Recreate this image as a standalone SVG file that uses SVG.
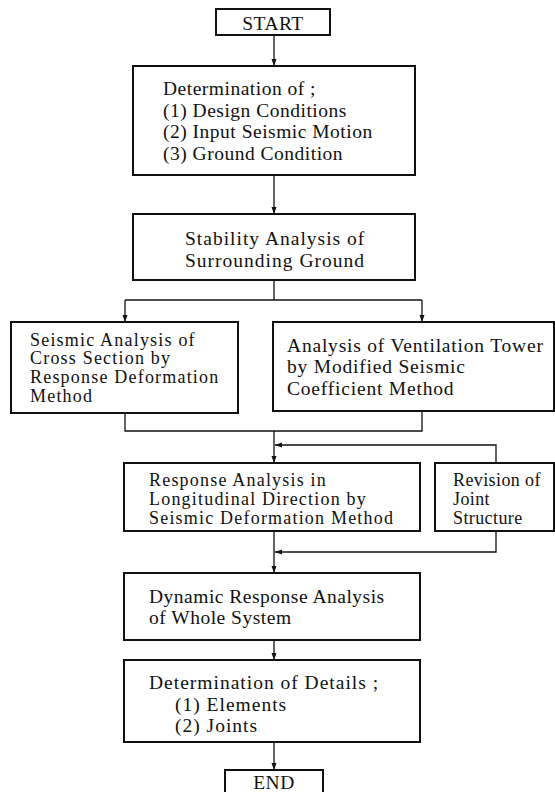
<svg xmlns="http://www.w3.org/2000/svg" width="555" height="792" viewBox="0 0 555 792">
<style>
.box{fill:#fff;stroke:#111;stroke-width:2}
.ln{fill:none;stroke:#111;stroke-width:1.3}
text{font-family:"Liberation Serif","Times New Roman",serif;font-size:19.5px;fill:#111;letter-spacing:0.5px}
.c{text-anchor:middle}
.t{font-size:18px;letter-spacing:1.2px}
.w{letter-spacing:1px}
</style>
<defs>
<marker id="ah" markerWidth="8" markerHeight="6" refX="7" refY="3" orient="auto" markerUnits="userSpaceOnUse">
<path d="M0,0.5 L7,3 L0,5.5 Z" fill="#111"/>
</marker>
</defs>
<rect width="555" height="792" fill="#fff"/>
<g id="connectors">
<path class="ln" d="M274,35 V66" marker-end="url(#ah)"/>
<path class="ln" d="M274,175 V214" marker-end="url(#ah)"/>
<path class="ln" d="M274,280 V300"/>
<path class="ln" d="M125,300 H422"/>
<path class="ln" d="M125,300 V322" marker-end="url(#ah)"/>
<path class="ln" d="M422,300 V322" marker-end="url(#ah)"/>
<path class="ln" d="M125,413 V431 H422 V411"/>
<path class="ln" d="M274,431 V463" marker-end="url(#ah)"/>
<path class="ln" d="M496,463 V445 H275" marker-end="url(#ah)"/>
<path class="ln" d="M274,531 V573" marker-end="url(#ah)"/>
<path class="ln" d="M496,531 V552 H275" marker-end="url(#ah)"/>
<path class="ln" d="M274,640 V660" marker-end="url(#ah)"/>
<path class="ln" d="M274,742 V770" marker-end="url(#ah)"/>
</g>
<g id="start">
<rect class="box" x="216" y="9" width="114" height="26"/>
<text class="c" x="273" y="30">START</text>
</g>
<g id="determination">
<rect class="box" x="133" y="66" width="282" height="109"/>
<text x="163" y="95">Determination of ;</text>
<text x="163" y="117">(1) Design Conditions</text>
<text x="163" y="138">(2) Input Seismic Motion</text>
<text x="163" y="160">(3) Ground Condition</text>
</g>
<g id="stability">
<rect class="box" x="133" y="214" width="282" height="66"/>
<text class="w" x="185" y="245">Stability Analysis of</text>
<text class="w" x="185" y="267">Surrounding Ground</text>
</g>
<g id="cross-section">
<rect class="box" x="11" y="322" width="227" height="91"/>
<text class="t" x="30" y="345.5">Seismic Analysis of</text>
<text class="t" x="30" y="364">Cross Section by</text>
<text class="t" x="30" y="382.5">Response Deformation</text>
<text class="t" x="30" y="402">Method</text>
</g>
<g id="ventilation">
<rect class="box" x="273" y="322" width="281" height="89"/>
<text x="287" y="352" style="letter-spacing:0.8px">Analysis of Ventilation Tower</text>
<text x="287" y="373" style="letter-spacing:0.8px">by Modified Seismic</text>
<text x="287" y="395" style="letter-spacing:0.8px">Coefficient Method</text>
</g>
<g id="longitudinal">
<rect class="box" x="124" y="463" width="296" height="68"/>
<text class="t" x="149" y="486">Response Analysis in</text>
<text class="t" x="149" y="505">Longitudinal Direction by</text>
<text class="t" x="149" y="524">Seismic Deformation Method</text>
</g>
<g id="revision">
<rect class="box" x="435" y="463" width="119" height="68"/>
<text class="t" x="453" y="486" style="letter-spacing:0.4px">Revision of</text>
<text class="t" x="453" y="505" style="letter-spacing:0.4px">Joint</text>
<text class="t" x="453" y="524" style="letter-spacing:0.4px">Structure</text>
</g>
<g id="dynamic">
<rect class="box" x="124" y="573" width="296" height="67"/>
<text x="149" y="603">Dynamic Response Analysis</text>
<text x="149" y="624">of Whole System</text>
</g>
<g id="details">
<rect class="box" x="124" y="660" width="296" height="82"/>
<text class="w" x="149" y="689">Determination of Details ;</text>
<text class="w" x="175" y="711">(1) Elements</text>
<text class="w" x="175" y="732">(2) Joints</text>
</g>
<g id="end">
<rect class="box" x="225" y="770" width="98" height="30"/>
<text class="c" x="274" y="789">END</text>
</g>
</svg>
